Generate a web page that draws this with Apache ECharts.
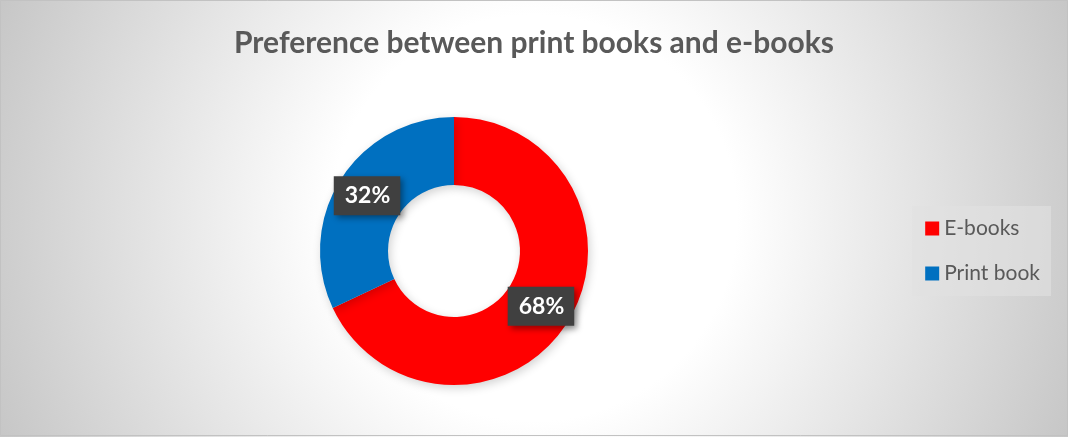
<!DOCTYPE html>
<html>
<head>
<meta charset="utf-8">
<style>
  html, body { margin: 0; padding: 0; background: #ffffff; }
  #chart { width: 1068px; height: 437px; }
</style>
<script src="https://cdn.jsdelivr.net/npm/echarts@6/dist/echarts.min.js"></script>
</head>
<body>
<div id="chart"></div>
<script>
// Share of readers preferring each book format
const categories = ['E-books', 'Print book'];
const shares = [68, 32];
const colors = ['#ff0000', '#0070c0'];

const chart = echarts.init(document.getElementById('chart'));

chart.setOption({
  // soft white glow in the middle, fading to grey toward the corners
  backgroundColor: {
    type: 'radial', x: 534, y: 218, r: 580, global: true,
    colorStops: [
      { offset: 0, color: '#ffffff' },
      { offset: 0.35, color: '#ffffff' },
      { offset: 1, color: '#c6c6c6' }
    ]
  },
  graphic: [{
    type: 'rect',
    silent: true,
    shape: { x: 0.5, y: 0.5, width: 1067, height: 435 },
    style: { fill: 'none', stroke: '#c2c2c2', lineWidth: 1 }
  }],
  title: {
    text: 'Preference between print books and e-books',
    left: 'center',
    top: 23,
    textStyle: {
      fontFamily: 'Lato',
      fontSize: 30,
      fontWeight: 'bold',
      color: '#595959'
    }
  },
  legend: {
    orient: 'vertical',
    right: 17,
    top: 206,
    itemWidth: 14,
    itemHeight: 14,
    itemGap: 20,
    icon: 'rect',
    padding: [10, 11, 10, 13],
    backgroundColor: 'rgba(225,225,225,0.6)',
    textStyle: { fontFamily: 'Lato', fontSize: 21, lineHeight: 25, color: '#595959' },
    data: categories
  },
  series: [{
    type: 'pie',
    center: [454, 251],
    radius: [66, 134],
    startAngle: 90,
    clockwise: true,
    silent: true,
    label: {
      show: true,
      position: 'inside',
      formatter: '{c}%',
      color: '#ffffff',
      fontFamily: 'Lato',
      fontSize: 23,
      fontWeight: 'bold',
      lineHeight: 27,
      backgroundColor: '#404040',
      padding: [6, 10, 6, 11],
      shadowColor: 'rgba(0,0,0,0.4)',
      shadowBlur: 6,
      shadowOffsetX: 3,
      shadowOffsetY: 3
    },
    labelLine: { show: false },
    itemStyle: {
      borderWidth: 0,
      shadowColor: 'rgba(0,0,0,0.18)',
      shadowBlur: 10,
      shadowOffsetX: 2,
      shadowOffsetY: 3
    },
    data: categories.map((name, i) => ({
      name,
      value: shares[i],
      itemStyle: { color: colors[i] }
    }))
  }]
});
</script>
</body>
</html>
